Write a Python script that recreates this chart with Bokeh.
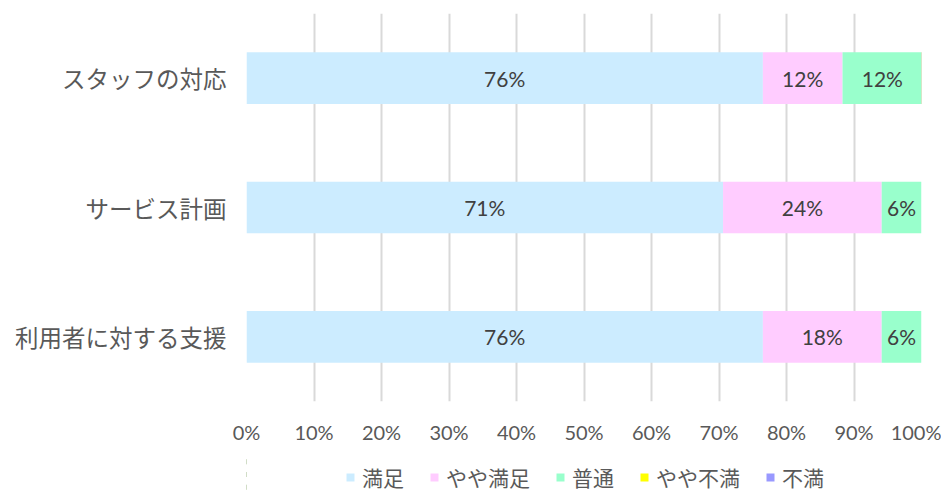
from bokeh.plotting import figure
from bokeh.layouts import column
from bokeh.models import ColumnDataSource, Legend, LegendItem, FixedTicker, PrintfTickFormatter
from bokeh.embed import file_html
from bokeh.resources import INLINE
from bokeh.core.properties import value

categories = ["スタッフの対応", "サービス計画", "利用者に対する支援"]
series = ["満足", "やや満足", "普通", "やや不満", "不満"]
satisfied = [76.5, 70.6, 76.5]
somewhat_satisfied = [11.8, 23.5, 17.6]
neutral = [11.8, 5.9, 5.9]
somewhat_dissatisfied = [0.0, 0.0, 0.0]
dissatisfied = [0.0, 0.0, 0.0]
colors = ["#CCECFF", "#FFCCFF", "#99FFCC", "#FFFF00", "#9999FF"]
x_ticks = [0, 10, 20, 30, 40, 50, 60, 70, 80, 90, 100]

values = [satisfied, somewhat_satisfied, neutral, somewhat_dissatisfied, dissatisfied]
data = {"cat": categories}
for name, vals in zip(series, values):
    data[name] = vals
source = ColumnDataSource(data)

JP = "Noto Sans CJK JP"
NUM = "Lato"

p = figure(y_range=list(reversed(categories)), x_range=(0, 100),
           width=941, height=455, output_backend="svg", toolbar_location=None,
           min_border_left=246, min_border_right=20, min_border_top=13, min_border_bottom=54)
p.y_range.range_padding = 0
p.y_range.factor_padding = 0

p.hbar_stack(series, y="cat", height=0.4, color=colors, source=source, line_width=0)

# data labels
lx, ly, lt = [], [], []
for i, cat in enumerate(categories):
    left = 0.0
    for vals in values:
        v = vals[i]
        if v > 0:
            lx.append(left + v / 2)
            ly.append(cat)
            lt.append(f"{round(v)}%")
        left += v
p.text(x=lx, y=ly, text=lt, text_align="center", text_baseline="middle",
       text_font=value(NUM), text_font_size="21px", text_color="#404040")

p.xaxis.ticker = FixedTicker(ticks=x_ticks)
p.xaxis.formatter = PrintfTickFormatter(format="%d%%")
p.xaxis.axis_line_color = None
p.xaxis.major_tick_line_color = None
p.xaxis.minor_tick_line_color = None
p.xaxis.major_label_text_font = NUM
p.xaxis.major_label_text_font_size = "20px"
p.xaxis.major_label_text_color = "#595959"
p.xaxis.major_label_standoff = 12

p.yaxis.axis_line_color = None
p.yaxis.major_tick_line_color = None
p.yaxis.minor_tick_line_color = None
p.yaxis.major_label_text_font = JP
p.yaxis.major_label_text_font_size = "23.5px"
p.yaxis.major_label_text_color = "#595959"
p.yaxis.major_label_standoff = 14

p.ygrid.grid_line_color = None
p.xgrid.grid_line_color = "#D9D9D9"
p.xgrid.grid_line_width = 2
p.outline_line_color = None

# legend strip below the chart (its bars lie outside its view; only the legend shows)
pl = figure(y_range=list(reversed(categories)), x_range=(200, 300),
            width=941, height=38, output_backend="svg", toolbar_location=None,
            min_border=0)
leg_renderers = pl.hbar_stack(series, y="cat", height=0.4, color=colors, source=source, line_width=0)
pl.axis.visible = False
pl.grid.visible = False
pl.outline_line_color = None

legend = Legend(items=[LegendItem(label=s, renderers=[r]) for s, r in zip(series, leg_renderers)],
                orientation="horizontal", location=(99, 1),
                glyph_width=10, glyph_height=10, label_standoff=7, spacing=25,
                padding=0, margin=0, border_line_color=None, background_fill_alpha=0,
                label_text_font=JP, label_text_font_size="21px", label_text_color="#595959")
pl.add_layout(legend, "center")

layout = column(p, pl, spacing=0)
open("out.html", "w").write(file_html(layout, INLINE))
